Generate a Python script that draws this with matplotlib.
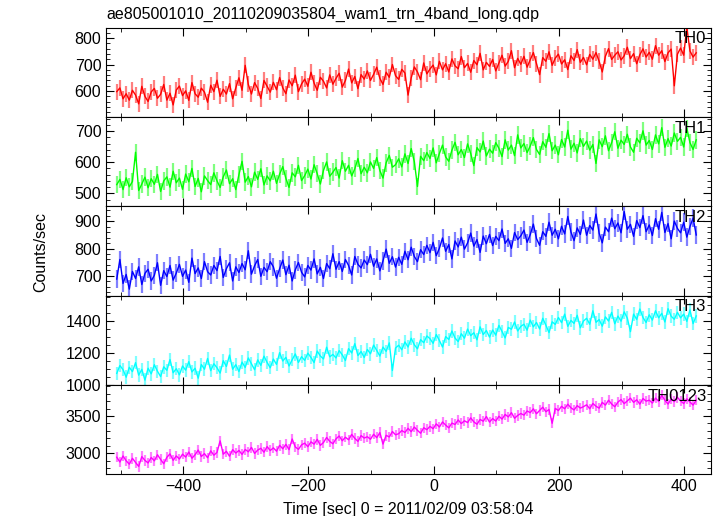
import numpy as np
import matplotlib
matplotlib.use('Agg')
import matplotlib.pyplot as plt
from matplotlib.ticker import MultipleLocator

plt.rcParams['font.family'] = ['Liberation Sans', 'DejaVu Sans']

# light curves, 5 s samples starting at t = -506 s
t_start = -506
t_step = 5

th0 = [598, 612, 571, 590, 566, 603, 585, 552, 618, 580,
       561, 597, 610, 573, 588, 625, 566, 592, 548, 604,
       619, 583, 601, 565, 632, 590, 577, 611, 596, 558,
       622, 598, 641, 580, 607, 589, 628, 571, 612, 650,
       603, 697, 625, 589, 632, 610, 572, 640, 618, 596,
       633, 605, 651, 612, 590, 642, 620, 660, 598, 627,
       645, 618, 671, 630, 603, 652, 637, 612, 661, 626,
       648, 667, 615, 640, 683, 631, 655, 609, 662, 645,
       676, 640, 663, 690, 648, 625, 671, 652, 700, 658,
       644, 682, 668, 585, 650, 691, 672, 643, 706, 665,
       683, 698, 661, 712, 680, 703, 672, 721, 695, 684,
       730, 688, 704, 671, 715, 699, 742, 680, 708, 693,
       719, 676, 706, 735, 694, 712, 752, 688, 723, 701,
       731, 690, 718, 745, 703, 662, 726, 712, 748, 697,
       724, 739, 702, 718, 681, 733, 715, 756, 708, 727,
       699, 738, 720, 745, 712, 672, 731, 760, 719, 735,
       748, 717, 733, 765, 722, 741, 703, 737, 759, 728,
       746, 720, 771, 735, 752, 711, 744, 758, 620, 739,
       762, 735, 840, 751, 728, 744]

th1 = [528, 545, 512, 550, 521, 538, 632, 509, 530, 552,
       518, 547, 529, 561, 506, 540, 553, 520, 571, 534,
       549, 513, 562, 537, 580, 522, 548, 505, 556, 541,
       528, 566, 540, 519, 553, 575, 531, 547, 512, 560,
       603, 536, 554, 521, 568, 545, 579, 527, 556, 540,
       571, 532, 562, 586, 548, 519, 566, 553, 590, 541,
       557, 578, 546, 592, 563, 530, 574, 601, 555, 568,
       583, 549, 605, 571, 590, 556, 579, 612, 563, 584,
       566, 601, 580, 615, 573, 549, 598, 622, 584, 592,
       611, 585, 627, 596, 644, 602, 522, 619, 605, 631,
       612, 646, 598, 628, 655, 617, 603, 639, 664, 624,
       641, 615, 659, 628, 589, 647, 633, 668, 620, 642,
       629, 663, 645, 618, 672, 639, 655, 621, 688, 646,
       660, 631, 652, 679, 641, 625, 666, 648, 692, 637,
       655, 624, 673, 649, 703, 642, 661, 630, 676, 651,
       668, 639, 657, 596, 672, 650, 685, 637, 663, 698,
       645, 671, 657, 690, 649, 632, 677, 662, 701, 655,
       670, 641, 688, 659, 711, 648, 676, 652, 694, 667,
       680, 649, 709, 663, 641, 672]

th2 = [688, 760, 672, 705, 651, 716, 690, 733, 668, 709,
       724, 681, 702, 748, 665, 719, 697, 738, 684, 710,
       742, 698, 721, 676, 765, 708, 729, 690, 752, 715,
       703, 738, 719, 771, 694, 726, 748, 681, 733, 712,
       745, 722, 792, 706, 737, 760, 698, 731, 715, 752,
       733, 691, 726, 758, 704, 739, 681, 722, 749, 713,
       696, 738, 721, 762, 707, 731, 690, 745, 726, 781,
       724, 752, 716, 760, 738, 703, 771, 742, 729, 758,
       741, 779, 735, 762, 718, 755, 798, 746, 770, 732,
       768, 742, 790, 759, 805, 771, 752, 796, 778, 812,
       785, 823, 774, 801, 839, 790, 815, 762, 828, 806,
       842, 798, 821, 857, 809, 833, 786, 846, 818, 852,
       811, 845, 829, 872, 819, 836, 801, 859, 833, 847,
       868, 823, 851, 890, 837, 812, 862, 845, 897, 849,
       871, 836, 882, 854, 918, 861, 829, 876, 852, 905,
       849, 885, 868, 927, 857, 821, 879, 862, 912, 873,
       894, 858, 936, 871, 889, 845, 903, 877, 921, 862,
       887, 848, 910, 871, 933, 859, 892, 836, 901, 874,
       858, 897, 842, 881, 912, 850]

th3 = [1072, 1121, 1095, 1048, 1110, 1083, 1139, 1061, 1097, 1030,
       1104, 1069, 1126, 1085, 1052, 1113, 1091, 1158, 1076, 1101,
       1063, 1118, 1092, 1145, 1081, 1104, 1042, 1127, 1098, 1165,
       1089, 1132, 1107, 1074, 1151, 1115, 1186, 1098, 1126, 1083,
       1142, 1109, 1168, 1131, 1095, 1156, 1122, 1179, 1140, 1107,
       1161, 1128, 1201, 1149, 1172, 1118, 1157, 1193, 1140, 1176,
       1153, 1198, 1171, 1139, 1211, 1180, 1162, 1235, 1175, 1190,
       1168, 1214, 1187, 1152, 1226, 1199, 1257, 1183, 1208, 1171,
       1221, 1194, 1248, 1215, 1180, 1236, 1209, 1262, 1090, 1230,
       1247, 1219, 1268, 1236, 1291, 1250, 1225, 1282, 1263, 1305,
       1288, 1259, 1314, 1277, 1236, 1301, 1283, 1336, 1292, 1270,
       1319, 1291, 1348, 1307, 1325, 1281, 1362, 1314, 1339, 1298,
       1342, 1310, 1371, 1333, 1293, 1358, 1347, 1392, 1336, 1365,
       1378, 1341, 1404, 1362, 1389, 1349, 1415, 1372, 1326, 1393,
       1377, 1420, 1388, 1441, 1365, 1402, 1383, 1434, 1356, 1398,
       1415, 1378, 1462, 1390, 1407, 1366, 1424, 1398, 1452, 1381,
       1429, 1397, 1455, 1416, 1332, 1441, 1408, 1473, 1420, 1389,
       1437, 1404, 1462, 1418, 1446, 1392, 1475, 1428, 1409, 1452,
       1418, 1441, 1396, 1467, 1382, 1430]

th0123 = [2945, 2880, 2962, 2897, 2851, 2930, 2874, 2821, 2953, 2902,
          2868, 2941, 2896, 2978, 2915, 2857, 2944, 2990, 2903, 2962,
          2921, 2986, 2947, 3015, 2931, 2978, 3042, 2955, 2993, 2938,
          3031, 2972, 3010, 3165, 2986, 3024, 2958, 3047, 3001, 3036,
          2983, 3049, 3018, 3077, 2996, 3041, 3065, 3012, 3088, 3035,
          3071, 3026, 3105, 3059, 3118, 3047, 3190, 3083, 3051, 3112,
          3134, 3087, 3152, 3121, 3186, 3105, 3143, 3211, 3158, 3126,
          3192, 3231, 3167, 3214, 3180, 3252, 3199, 3158, 3236, 3203,
          3221, 3187, 3254, 3209, 3276, 3122, 3240, 3218, 3291, 3247,
          3262, 3305, 3278, 3334, 3289, 3351, 3307, 3268, 3342, 3316,
          3361, 3329, 3394, 3352, 3420, 3378, 3341, 3405, 3386, 3447,
          3398, 3436, 3412, 3475, 3421, 3389, 3454, 3430, 3493, 3418,
          3466, 3432, 3497, 3459, 3521, 3488, 3545, 3470, 3508, 3534,
          3512, 3568, 3546, 3597, 3531, 3574, 3619, 3558, 3588, 3402,
          3603, 3574, 3631, 3598, 3659, 3611, 3582, 3640, 3607, 3626,
          3651, 3598, 3669, 3632, 3606, 3684, 3647, 3713, 3662, 3625,
          3688, 3722, 3667, 3705, 3741, 3684, 3719, 3660, 3736, 3701,
          3713, 3675, 3742, 3698, 3780, 3712, 3661, 3729, 3694, 3751,
          3705, 3668, 3732, 3690, 3647, 3714]

names = ['TH0', 'TH1', 'TH2', 'TH3', 'TH0123']
series = [th0, th1, th2, th3, th0123]
errors = [30, 28, 32, 42, 70]
colors = ['#ff0000', '#00ff00', '#0000ff', '#00ffff', '#ff00ff']
ylims = [(502, 838), (458, 745), (627, 955), (1000, 1556), (2716, 3919)]
ymajor = [100, 100, 100, 200, 500]
yminor = [20, 20, 20, 50, 100]

fig, axes = plt.subplots(5, 1, sharex=True, figsize=(7.17, 5.16), dpi=100)
fig.subplots_adjust(left=0.148, right=0.992, top=0.946, bottom=0.081, hspace=0)

for i, ax in enumerate(axes):
    y = np.array(series[i])
    t = t_start + t_step * np.arange(len(y))
    ax.errorbar(t, y, yerr=errors[i], fmt='none', ecolor=colors[i],
                elinewidth=1.6, alpha=0.5)
    ax.plot(t, y, color=colors[i], lw=1.0)
    ax.set_xlim(-523, 443)
    ax.set_ylim(*ylims[i])
    ax.yaxis.set_major_locator(MultipleLocator(ymajor[i]))
    ax.yaxis.set_minor_locator(MultipleLocator(yminor[i]))
    ax.xaxis.set_major_locator(MultipleLocator(200))
    ax.xaxis.set_minor_locator(MultipleLocator(100))
    ax.tick_params(which='both', direction='in', top=True, right=True, labelsize=11.5)
    ax.tick_params(which='major', length=6)
    ax.tick_params(which='minor', length=3)
    ax.text(0.992, 0.96, names[i], transform=ax.transAxes, ha='right', va='top', fontsize=12)

axes[-1].set_xlabel('Time [sec] 0 = 2011/02/09 03:58:04', fontsize=11.5, labelpad=6)
fig.text(0.057, 0.512, 'Counts/sec', rotation=90, ha='center', va='center', fontsize=11.5)
fig.text(0.148, 0.958, 'ae805001010_20110209035804_wam1_trn_4band_long.qdp', ha='left', va='bottom', fontsize=11.5)

plt.savefig('out.png', dpi=100)
